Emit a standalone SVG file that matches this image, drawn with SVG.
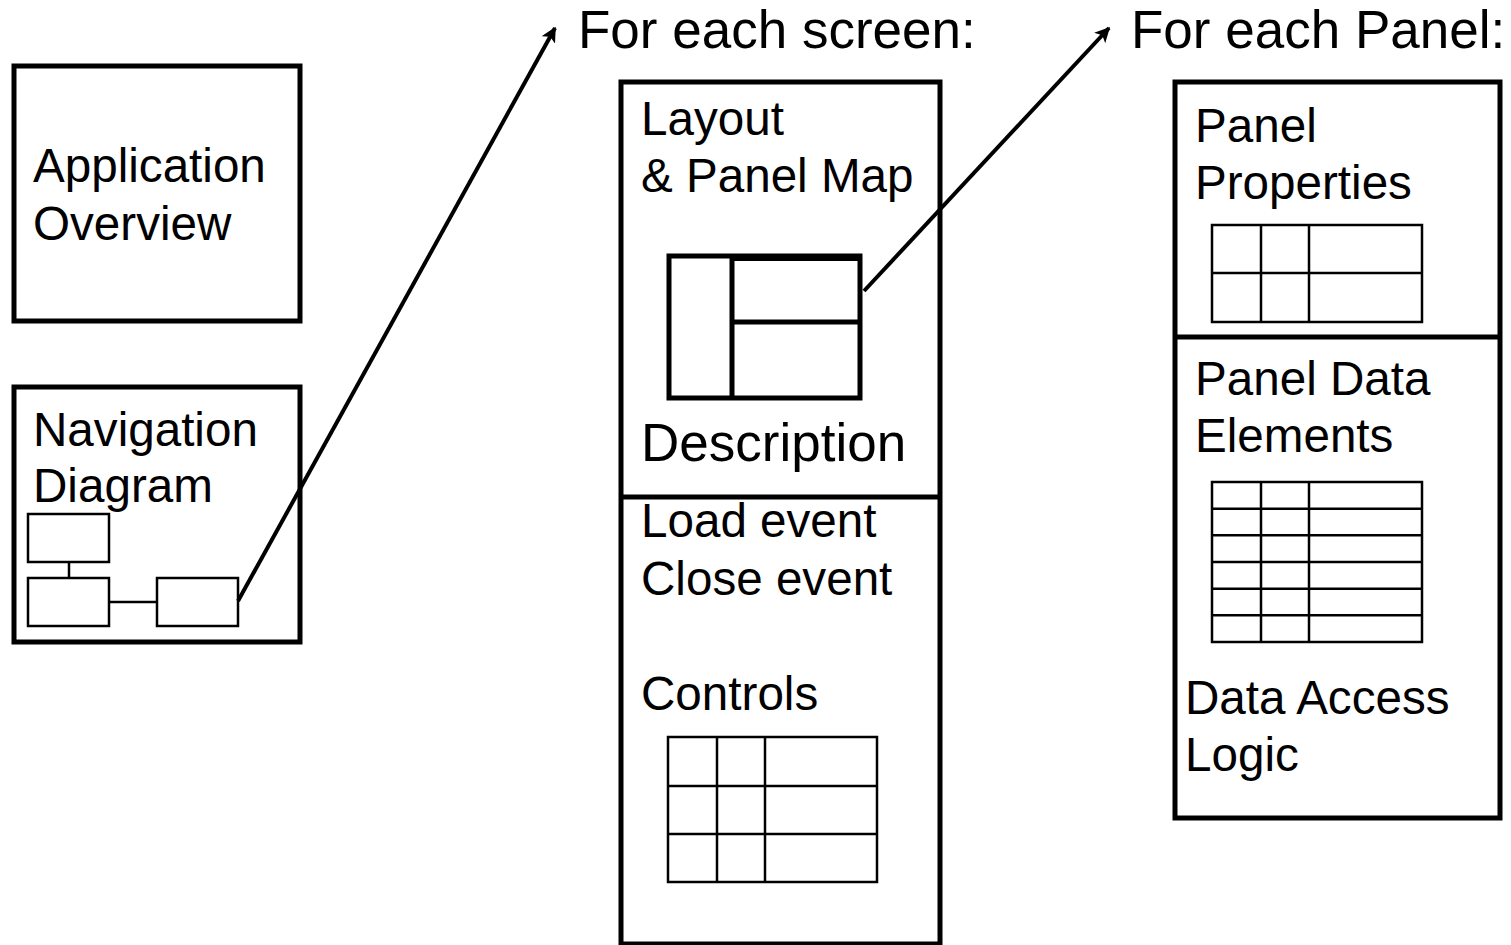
<svg xmlns="http://www.w3.org/2000/svg" width="1511" height="945" viewBox="0 0 1511 945">
  <style>
    .box { fill: #fff; stroke: #000; stroke-width: 5; }
    .thin { fill: none; stroke: #000; stroke-width: 2.5; }
    .grid { fill: none; stroke: #000; stroke-width: 2.5; }
    .map { fill: none; stroke: #000; stroke-width: 5; }
    .conn { fill: none; stroke: #000; stroke-width: 4; marker-end: url(#arrow); }
    text { font-family: "Liberation Sans", Arial, Helvetica, sans-serif; fill: #000; }
    .body { font-size: 47.6px; }
    .big { font-size: 53px; }
  </style>
  <defs>
    <marker id="arrow" viewBox="0 0 10 10" refX="9" refY="5" markerWidth="3.8" markerHeight="3.8" orient="auto" markerUnits="strokeWidth">
      <path d="M0,0 L10,5 L0,10 L2.5,5 Z" fill="#000"/>
    </marker>
  </defs>
  <rect width="1511" height="945" fill="#fff"/>

  <!-- Application overview -->
  <g id="app-overview">
    <rect class="box" x="14" y="66" width="286" height="255"/>
    <text class="body" x="33" y="182">Application</text>
    <text class="body" x="33" y="240">Overview</text>
  </g>

  <!-- Navigation diagram with mini screen flow -->
  <g id="nav-diagram">
    <rect class="box" x="14" y="387" width="286" height="255"/>
    <text class="body" x="33" y="446">Navigation</text>
    <text class="body" x="33" y="502">Diagram</text>
    <rect class="thin" x="28" y="514" width="81" height="48"/>
    <rect class="thin" x="28" y="578" width="81" height="48"/>
    <rect class="thin" x="157" y="578" width="81" height="48"/>
    <line class="thin" x1="69" y1="562" x2="69" y2="578"/>
    <line class="thin" x1="109" y1="602" x2="157" y2="602"/>
  </g>

  <!-- Per-screen page -->
  <g id="screen">
    <text class="big" x="578" y="48">For each screen:</text>
    <rect class="box" x="621" y="82" width="319" height="862"/>
    <line class="map" x1="621" y1="497" x2="940" y2="497"/>
    <text class="body" x="641" y="135">Layout</text>
    <text class="body" x="641" y="192">&amp; Panel Map</text>
    <g id="panel-map">
      <rect class="map" x="669" y="256" width="191" height="142"/>
      <line class="map" x1="732" y1="256" x2="732" y2="398"/>
      <line class="map" x1="732" y1="322" x2="860" y2="322"/>
      <line class="map" x1="732" y1="258.5" x2="860" y2="258.5"/>
    </g>
    <text class="big" x="641" y="461">Description</text>
    <text class="body" x="641" y="537">Load event</text>
    <text class="body" x="641" y="595">Close event</text>
    <text class="body" x="641" y="710">Controls</text>
    <g id="controls-grid">
      <rect class="grid" x="668" y="737" width="209" height="145"/>
      <line class="grid" x1="668" y1="786" x2="877" y2="786"/>
      <line class="grid" x1="668" y1="834" x2="877" y2="834"/>
      <line class="grid" x1="717" y1="737" x2="717" y2="882"/>
      <line class="grid" x1="765" y1="737" x2="765" y2="882"/>
    </g>
  </g>

  <!-- Per-panel page -->
  <g id="panel">
    <text class="big" x="1131" y="48">For each Panel:</text>
    <rect class="box" x="1175" y="82" width="325" height="736"/>
    <line class="map" x1="1175" y1="337" x2="1500" y2="337"/>
    <text class="body" x="1195" y="142">Panel</text>
    <text class="body" x="1195" y="199">Properties</text>
    <g id="properties-grid">
      <rect class="grid" x="1212" y="225" width="210" height="97"/>
      <line class="grid" x1="1212" y1="273" x2="1422" y2="273"/>
      <line class="grid" x1="1261" y1="225" x2="1261" y2="322"/>
      <line class="grid" x1="1309" y1="225" x2="1309" y2="322"/>
    </g>
    <text class="body" x="1195" y="395">Panel Data</text>
    <text class="body" x="1195" y="452">Elements</text>
    <g id="elements-grid">
      <rect class="grid" x="1212" y="482" width="210" height="160"/>
      <line class="grid" x1="1212" y1="508.7" x2="1422" y2="508.7"/>
      <line class="grid" x1="1212" y1="535.3" x2="1422" y2="535.3"/>
      <line class="grid" x1="1212" y1="562" x2="1422" y2="562"/>
      <line class="grid" x1="1212" y1="588.7" x2="1422" y2="588.7"/>
      <line class="grid" x1="1212" y1="615.3" x2="1422" y2="615.3"/>
      <line class="grid" x1="1261" y1="482" x2="1261" y2="642"/>
      <line class="grid" x1="1309" y1="482" x2="1309" y2="642"/>
    </g>
    <text class="body" x="1185" y="714">Data Access</text>
    <text class="body" x="1185" y="771">Logic</text>
  </g>

  <!-- Drill-down connectors -->
  <g id="connectors">
    <line class="conn" x1="238" y1="601" x2="555" y2="28"/>
    <line class="conn" x1="864" y1="291" x2="1109" y2="28"/>
  </g>
</svg>
